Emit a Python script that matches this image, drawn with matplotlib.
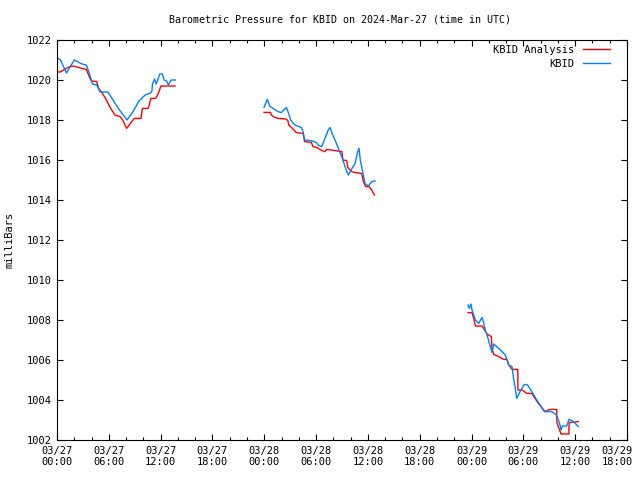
import numpy as np
import matplotlib
matplotlib.use("Agg")
import matplotlib.pyplot as plt
import matplotlib.transforms as mtransforms
from matplotlib.ticker import MultipleLocator

# hours since 2024-03-27 00:00 UTC
blue1_t = [0.0, 0.4, 1.1, 2.0, 2.9, 3.4, 3.8, 4.1, 4.6, 5.0, 5.9, 6.7, 7.4, 8.1, 8.7, 9.5, 10.2,
           10.8, 11.0, 11.05, 11.3, 11.5, 11.9, 12.2, 12.4, 12.7, 12.9, 13.2, 13.7]
blue1_p = [1021.1, 1021.0, 1020.35, 1021.0, 1020.8, 1020.75, 1020.25, 1019.8, 1019.75, 1019.4,
           1019.4, 1018.85, 1018.4, 1018.0, 1018.35, 1018.95, 1019.25, 1019.35, 1019.45, 1019.8,
           1020.05, 1019.8, 1020.3, 1020.3, 1020.0, 1019.95, 1019.75, 1020.0, 1020.0]
red1_t = [0.0, 0.35, 1.3, 1.9, 2.9, 3.4, 3.8, 4.0, 4.6, 4.8, 5.2, 5.6, 6.1, 6.7, 7.3, 7.56, 8.07,
          8.65, 8.95, 9.73, 9.88, 10.57, 10.88, 11.43, 11.73, 12.04, 13.66]
red1_p = [1020.4, 1020.4, 1020.63, 1020.7, 1020.58, 1020.53, 1020.1, 1019.95, 1019.92, 1019.6,
          1019.37, 1019.1, 1018.67, 1018.25, 1018.17, 1018.03, 1017.58, 1017.92, 1018.08, 1018.08,
          1018.58, 1018.58, 1019.08, 1019.08, 1019.33, 1019.7, 1019.7]

blue2_t = [23.97, 24.35, 24.63, 25.01, 25.59, 25.97, 26.55, 26.75, 27.06, 27.52, 28.29, 28.49,
           28.68, 29.45, 30.03, 30.22, 30.65, 31.41, 31.61, 31.88, 32.27, 32.65, 33.04, 33.55,
           33.73, 34.04, 34.51, 34.82, 34.97, 35.12, 35.47, 35.66, 36.05, 36.44, 36.82]
blue2_p = [1018.63, 1019.03, 1018.7, 1018.58, 1018.42, 1018.37, 1018.63, 1018.42, 1018.0, 1017.75,
           1017.63, 1017.42, 1017.0, 1016.97, 1016.87, 1016.75, 1016.67, 1017.5, 1017.63, 1017.3,
           1016.92, 1016.5, 1016.08, 1015.42, 1015.25, 1015.5, 1015.83, 1016.42, 1016.58, 1016.0,
           1015.25, 1014.83, 1014.7, 1014.92, 1014.95]
red2_t = [23.97, 24.74, 24.81, 25.2, 25.59, 26.55, 26.75, 26.83, 27.14, 27.71, 28.49, 28.68, 29.45,
          29.64, 30.14, 30.41, 30.98, 31.24, 33.0, 33.1, 33.55, 33.67, 34.13, 34.51, 35.28, 35.47,
          35.74, 36.13, 36.44, 36.75]
red2_p = [1018.38, 1018.38, 1018.25, 1018.13, 1018.08, 1018.05, 1017.95, 1017.75, 1017.63, 1017.37,
          1017.33, 1016.92, 1016.88, 1016.67, 1016.62, 1016.53, 1016.42, 1016.53, 1016.42, 1016.0,
          1015.97, 1015.62, 1015.42, 1015.37, 1015.33, 1014.92, 1014.67, 1014.67, 1014.5, 1014.25]

blue3_t = [47.59, 47.74, 47.94, 48.05, 48.25, 48.44, 48.83, 49.21, 49.41, 49.59, 49.91, 50.17,
           50.37, 50.57, 51.15, 51.53, 51.91, 52.30, 52.69, 52.89, 53.0, 53.23, 53.61, 54.11,
           54.5, 54.97, 55.55, 55.93, 56.43, 57.28, 57.86, 58.24, 58.36, 58.51, 59.02, 59.29,
           59.79, 60.36]
blue3_p = [1008.75, 1008.58, 1008.8, 1008.5, 1008.25, 1008.0, 1007.83, 1008.13, 1007.83, 1007.5,
           1007.08, 1006.67, 1006.37, 1006.8, 1006.58, 1006.42, 1006.25, 1005.75, 1005.67, 1005.0,
           1004.75, 1004.08, 1004.42, 1004.78, 1004.75, 1004.42, 1004.0, 1003.75, 1003.42, 1003.42,
           1003.25, 1002.75, 1002.5, 1002.7, 1002.7, 1003.03, 1002.92, 1002.67]
red3_t = [47.59, 48.05, 48.25, 48.44, 49.21, 49.52, 49.79, 50.29, 50.37, 50.57, 51.15, 51.73,
          52.11, 52.30, 52.69, 53.35, 53.37, 53.88, 54.39, 54.97, 55.73, 56.51, 56.89, 57.2,
          57.86, 57.88, 58.36, 59.27, 59.3, 60.36]
red3_p = [1008.37, 1008.37, 1008.08, 1007.7, 1007.7, 1007.5, 1007.3, 1007.17, 1006.58, 1006.28,
          1006.17, 1006.03, 1006.03, 1005.75, 1005.53, 1005.53, 1004.5, 1004.5, 1004.33, 1004.33,
          1003.83, 1003.42, 1003.5, 1003.53, 1003.53, 1002.87, 1002.3, 1002.3, 1002.87, 1002.92]

xtick_labels = ["03/27\n00:00", "03/27\n06:00", "03/27\n12:00", "03/27\n18:00",
                "03/28\n00:00", "03/28\n06:00", "03/28\n12:00", "03/28\n18:00",
                "03/29\n00:00", "03/29\n06:00", "03/29\n12:00", "03/29\n18:00"]

plt.rcParams['font.family'] = ['DejaVu Sans Mono']
plt.rcParams['font.size'] = 7.5

fig = plt.figure(figsize=(6.4, 4.8), dpi=100)
ax = fig.add_axes([57/640, 40/480, 570/640, 400/480])

red = "#ff0000"
blue = "#0080ff"
ax.plot(red1_t, red1_p, color=red, lw=1.0, label="KBID Analysis")
ax.plot(red2_t, red2_p, color=red, lw=1.0)
ax.plot(red3_t, red3_p, color=red, lw=1.0)
ax.plot(blue1_t, blue1_p, color=blue, lw=1.0, label="KBID")
ax.plot(blue2_t, blue2_p, color=blue, lw=1.0)
ax.plot(blue3_t, blue3_p, color=blue, lw=1.0)

ax.set_xlim(0, 66)
ax.set_ylim(1002, 1022)
ax.set_xticks(np.arange(0, 67, 6))
ax.set_xticklabels(xtick_labels)
ax.xaxis.set_minor_locator(MultipleLocator(2))
ax.set_yticks(np.arange(1002, 1023, 2))
ax.tick_params(axis='both', which='major', direction='in', length=4.5, width=0.8,
               top=True, right=True, pad=4)
ax.tick_params(axis='both', which='minor', direction='in', length=2.2, width=0.8,
               top=True, right=True)
for s in ax.spines.values():
    s.set_linewidth(0.8)

# keep the last x tick label inside the canvas
last = ax.get_xticklabels()[-1]
last.set_transform(last.get_transform() +
                   mtransforms.ScaledTranslation(-10/100, 0, fig.dpi_scale_trans))

ax.set_ylabel("milliBars")
ax.yaxis.set_label_coords(-0.075, 0.5)
fig.text(340/640, 1 - 19/480, "Barometric Pressure for KBID on 2024-Mar-27 (time in UTC)",
         ha='center', va='center', fontsize=7.2)

ax.legend(loc='upper right', frameon=False, markerfirst=False, handlelength=2.6,
          borderaxespad=0.0, borderpad=0.0, labelspacing=0.35, handletextpad=0.85,
          bbox_to_anchor=((610-57)/570, (440-45)/400))

fig.savefig("out.png", dpi=100)
